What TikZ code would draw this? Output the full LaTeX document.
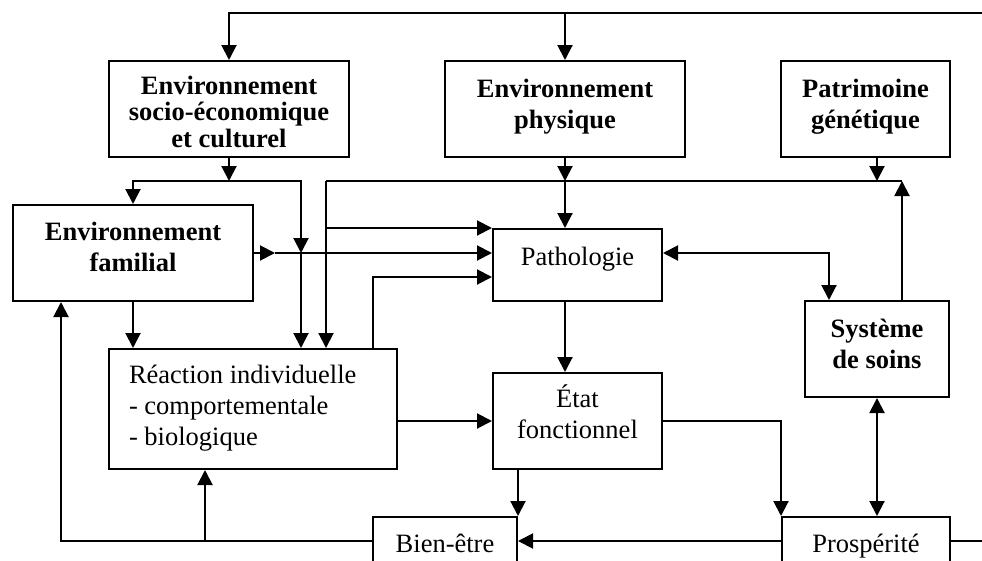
\documentclass[tikz,border=0pt]{standalone}
\usepackage{fontspec}
\setmainfont{Liberation Serif}
\usetikzlibrary{arrows.meta}
\begin{document}
\begin{tikzpicture}[x=1pt,y=-1pt,line width=2pt,
  box/.style 2 args={draw,inner sep=0pt,minimum width=#1,minimum height=#2},
  txt/.style={anchor=north,inner sep=0pt,align=center,font=\fontsize{26.5}{31}\selectfont},
  btxt/.style={txt,font=\fontsize{26.5}{31}\selectfont\bfseries},
  arr/.style={-{Triangle[length=15pt,width=15pt]}},
  darr/.style={{Triangle[length=15pt,width=15pt]}-{Triangle[length=15pt,width=15pt]}}]
\useasboundingbox (0,0) rectangle (982,560);
\fill[white] (0,0) rectangle (982,560);
\clip (0,0) rectangle (982,560);
% boxes
\node[box={240}{96}] (socio) at (229,109) {};
\node[box={240}{96}] (phys) at (565,109) {};
\node[box={169}{96}] (patri) at (865.5,109) {};
\node[box={240}{96}] (fam) at (133,253) {};
\node[box={169}{72}] (patho) at (577.5,265) {};
\node[box={144}{96}] (sys) at (877,349) {};
\node[box={288}{120}] (reac) at (253,409) {};
\node[box={169}{96}] (etat) at (577.5,421) {};
\node[box={144}{48}] (bien) at (445,541) {};
\node[box={168}{48}] (prosp) at (866,541) {};
% texts
\node[btxt,font=\fontsize{26.5}{26.5}\selectfont\bfseries] (socioT) at ([yshift=-15pt]socio.north) {Environnement\\socio-économique\\et culturel};
\node[btxt] (physT) at ([yshift=-18pt]phys.north) {Environnement\\physique};
\node[btxt] (patriT) at ([yshift=-18pt]patri.north) {Patrimoine\\génétique};
\node[btxt] (famT) at ([yshift=-17.5pt]fam.north) {Environnement\\familial};
\node[txt] (pathoT) at ([yshift=-18pt]patho.north) {Pathologie};
\node[btxt] (sysT) at ([yshift=-18pt]sys.north) {Système\\de soins};
\node[txt] (etatT) at ([yshift=-11.5pt]etat.north) {État\\fonctionnel};
\node[txt,anchor=north west,align=left] (reacT) at ([xshift=20pt,yshift=-15.7pt]reac.north west) {Réaction individuelle\\- comportementale\\- biologique};
\node[txt] (bienT) at ([yshift=-16.7pt]bien.north) {Bien-être};
\node[txt] (prospT) at ([yshift=-16.7pt]prosp.north) {Prospérité};
% junctions
\coordinate (topR) at (982,13);
\coordinate (botR) at (982,541);
\coordinate (j1) at (229,181);
\coordinate (j2) at (301,253);
\coordinate (j3) at (275,253);
\coordinate (j4) at (565,181);
\coordinate (j5) at (326,181);
\coordinate (j6) at (902,181);
\coordinate (j7) at (877,181);
\coordinate (j8) at (829,253);
\coordinate (j9) at (373,277);
\coordinate (j10) at (61,541);
\coordinate (j11) at (205,541);
% connectors
\draw[arr] (topR) -| (socio.north);
\draw[arr] (topR -| phys.north) -- (phys.north);
\draw[arr] (socio.south) -- (j1);
\draw[arr] (j1) -| (fam.north);
\draw[arr] (j1) -| (j2);
\draw[arr] (j2) -- (j2 |- reac.north);
\draw[arr] (fam.east) -- (j3);
\draw[arr] (j3) -- (j3 -| patho.west);
\draw[arr] (phys.south) -- (j4);
\draw (j5) -- (j6);
\draw[arr] (j4) -- (j4 |- patho.north);
\draw[arr] (j5) -- (j5 |- reac.north);
\draw[arr] (j5 |- patho.north) -- (patho.north west);
\draw[arr] (j7 |- patri.south) -- (j7);
\draw[arr] (j6 |- sys.north) -- (j6);
\draw[darr] (patho.east |- j8) -| (j8 |- sys.north);
\draw[arr] (j9 |- reac.north) -- (j9) -- (j9 -| patho.west);
\draw[arr] (j4 |- patho.south) -- (j4 |- etat.north);
\draw[arr] (reac.east |- etat.west) -- (etat.west);
\draw[arr] (fam.south) -- (fam.south |- reac.north);
\draw[arr] (etat.south -| bien.north east) -- (bien.north east);
\draw[arr] (etat.east) -| (prosp.north west);
\draw[darr] (sys.south) -- (sys.south |- prosp.north);
\draw[arr] (prosp.west) -- (bien.east);
\draw (prosp.east) -- (botR);
\draw[arr] (bien.west) -- (j10) -- (j10 |- fam.south);
\draw[arr] (j11) -- (j11 |- reac.south);
\end{tikzpicture}
\end{document}
